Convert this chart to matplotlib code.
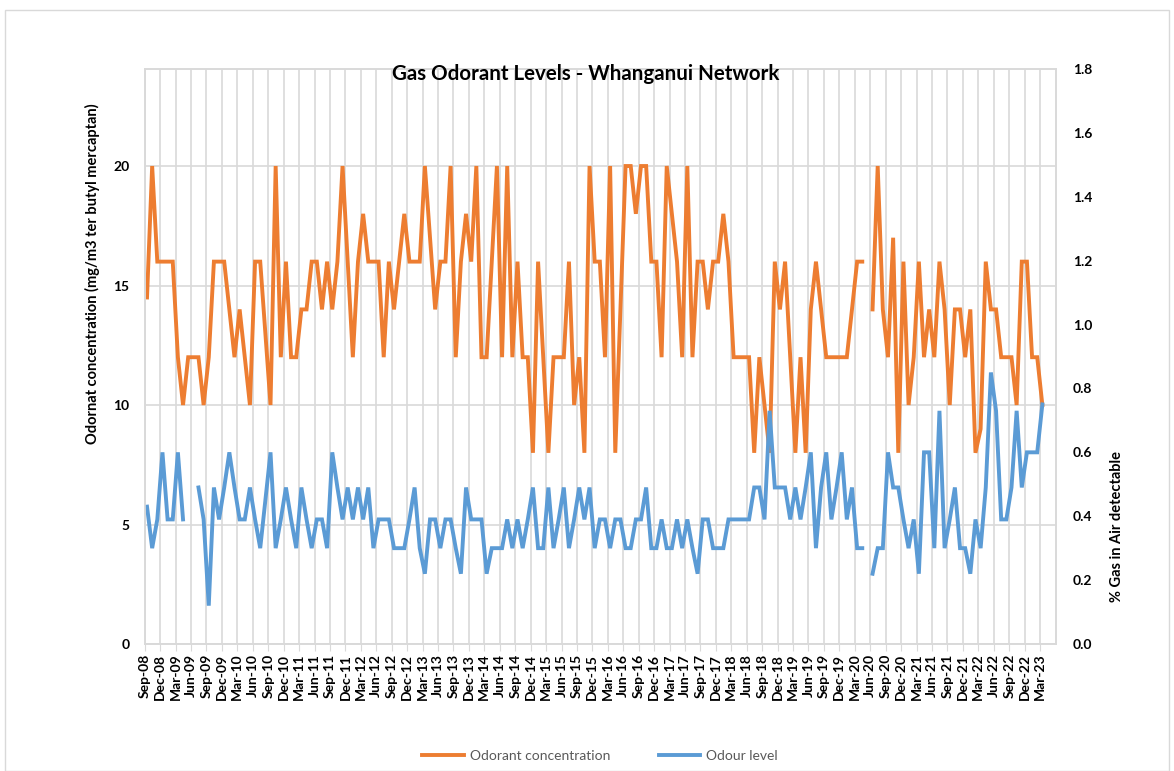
import numpy as np
import matplotlib.pyplot as plt
from matplotlib.patches import Rectangle

# Data (monthly samples, Sep-08 .. Mar-23; None = no sample)
odorant = [14.5, 20, 16, 16, 16, 16, 12, 10, 12, 12, 12, 10, 12, 16, 16, 16, 14, 12, 14, 12,
           10, 16, 16, 13, 10, 20, 12, 16, 12, 12, 14, 14, 16, 16, 14, 16, 14, 16, 20, 16,
           12, 16, 18, 16, 16, 16, 12, 16, 14, 16, 18, 16, 16, 16, 20, 17, 14, 16, 16, 20,
           12, 16, 18, 16, 20, 12, 12, 16, 20, 12, 20, 12, 16, 12, 12, 8, 16, 12, 8, 12,
           12, 12, 16, 10, 12, 8, 20, 16, 16, 12, 20, 8, 14, 20, 20, 18, 20, 20, 16, 16,
           12, 20, 18, 16, 12, 20, 12, 16, 16, 14, 16, 16, 18, 16, 12, 12, 12, 12, 8, 12,
           10, 8, 16, 14, 16, 12, 8, 12, 8, 14, 16, 14, 12, 12, 12, 12, 12, 14, 16, 16,
           None, 14, 20, 14, 12, 17, 8, 16, 10, 12, 16, 12, 14, 12, 16, 14, 10, 14, 14, 12,
           14, 8, 9, 16, 14, 14, 12, 12, 12, 10, 16, 16, 12, 12, 10]

odour = [0.43, 0.3, 0.39, 0.6, 0.39, 0.39, 0.6, 0.39, None, None, 0.49, 0.39, 0.12, 0.49, 0.39, 0.49, 0.6, 0.49, 0.39, 0.39,
         0.49, 0.39, 0.3, 0.45, 0.6, 0.3, 0.39, 0.49, 0.39, 0.3, 0.49, 0.39, 0.3, 0.39, 0.39, 0.3, 0.6, 0.49, 0.39, 0.49,
         0.39, 0.49, 0.39, 0.49, 0.3, 0.39, 0.39, 0.39, 0.3, 0.3, 0.3, 0.39, 0.49, 0.3, 0.22, 0.39, 0.39, 0.3, 0.39, 0.39,
         0.3, 0.22, 0.49, 0.39, 0.39, 0.39, 0.22, 0.3, 0.3, 0.3, 0.39, 0.3, 0.39, 0.3, 0.39, 0.49, 0.3, 0.3, 0.49, 0.3,
         0.39, 0.49, 0.3, 0.39, 0.49, 0.39, 0.49, 0.3, 0.39, 0.39, 0.3, 0.39, 0.39, 0.3, 0.3, 0.39, 0.39, 0.49, 0.3, 0.3,
         0.39, 0.3, 0.3, 0.39, 0.3, 0.39, 0.3, 0.22, 0.39, 0.39, 0.3, 0.3, 0.3, 0.39, 0.39, 0.39, 0.39, 0.39, 0.49, 0.49,
         0.39, 0.73, 0.49, 0.49, 0.49, 0.39, 0.49, 0.39, 0.49, 0.6, 0.3, 0.49, 0.6, 0.39, 0.49, 0.6, 0.39, 0.49, 0.3, 0.3,
         None, 0.22, 0.3, 0.3, 0.6, 0.49, 0.49, 0.39, 0.3, 0.39, 0.22, 0.6, 0.6, 0.3, 0.73, 0.3, 0.39, 0.49, 0.3, 0.3,
         0.22, 0.39, 0.3, 0.49, 0.85, 0.73, 0.39, 0.39, 0.49, 0.73, 0.49, 0.6, 0.6, 0.6, 0.75]

tick_labels = ['Sep-08', 'Dec-08', 'Mar-09', 'Jun-09', 'Sep-09', 'Dec-09', 'Mar-10', 'Jun-10', 'Sep-10', 'Dec-10',
               'Mar-11', 'Jun-11', 'Sep-11', 'Dec-11', 'Mar-12', 'Jun-12', 'Sep-12', 'Dec-12', 'Mar-13', 'Jun-13',
               'Sep-13', 'Dec-13', 'Mar-14', 'Jun-14', 'Sep-14', 'Dec-14', 'Mar-15', 'Jun-15', 'Sep-15', 'Dec-15',
               'Mar-16', 'Jun-16', 'Sep-16', 'Dec-16', 'Mar-17', 'Jun-17', 'Sep-17', 'Dec-17', 'Mar-18', 'Jun-18',
               'Sep-18', 'Dec-18', 'Mar-19', 'Jun-19', 'Sep-19', 'Dec-19', 'Mar-20', 'Jun-20', 'Sep-20', 'Dec-20',
               'Mar-21', 'Jun-21', 'Sep-21', 'Dec-21', 'Mar-22', 'Jun-22', 'Sep-22', 'Dec-22', 'Mar-23']

orange = '#ED7D31'
blue = '#5B9BD5'
grid = '#D9D9D9'

plt.rcParams['font.family'] = ['Lato', 'DejaVu Sans']

# samples taken mid-month -> offset a bit from the month gridline
x = np.arange(len(odorant)) + 0.45
y1 = np.array([np.nan if v is None else v for v in odorant], dtype=float)
y2 = np.array([np.nan if v is None else v for v in odour], dtype=float)

fig = plt.figure(figsize=(11.74, 7.71), dpi=100)
fig.patches.append(Rectangle((5 / 1174, 0), 1164 / 1174, 1 - 10 / 771, transform=fig.transFigure,
                             fill=False, edgecolor=grid, linewidth=1))

ax = fig.add_axes([144.7 / 1174, 1 - 644 / 771, (1056 - 144.7) / 1174, (644 - 69) / 771])
ax2 = ax.twinx()

ax.plot(x, y1, color=orange, linewidth=2.8, label='Odorant concentration', solid_joinstyle='miter')
ax2.plot(x, y2, color=blue, linewidth=2.8, label='Odour level', solid_joinstyle='miter')

ax.set_xlim(0, 177.1)
ax.set_ylim(0, 24.06)
ax2.set_ylim(0, 1.8)

ticks = np.arange(0, 3 * len(tick_labels), 3)
ax.set_xticks(ticks)
ax.set_xticklabels(tick_labels, rotation=90, fontsize=10, fontweight='bold')
ax.set_yticks([0, 5, 10, 15, 20])
ax.set_yticklabels(['0', '5', '10', '15', '20'], fontsize=10, fontweight='bold')
ax2.set_yticks(np.arange(0, 1.81, 0.2))
ax2.set_yticklabels(['%.1f' % v for v in np.arange(0, 1.81, 0.2)], fontsize=10, fontweight='bold')

ax.grid(True, color=grid, linewidth=1.2)
ax.set_axisbelow(True)
ax.tick_params(axis='x', length=5, color=grid, pad=2)
ax.tick_params(axis='y', length=0, pad=11)
ax2.tick_params(axis='y', length=0, pad=12)
for a in (ax, ax2):
    for s in a.spines.values():
        s.set_color(grid)
        s.set_linewidth(1.2)

fig.text(586 / 1174, 1 - 74 / 771, 'Gas Odorant Levels - Whanganui Network', ha='center', va='center',
         fontsize=14.8, fontweight='bold')
fig.text(92 / 1174, 1 - 274 / 771, 'Odornat concentration (mg/m3 ter butyl mercaptan)', rotation=90,
         ha='center', va='center', fontsize=10.5, fontweight='bold')
fig.text(1117 / 1174, 1 - 527 / 771, '% Gas in Air detectable', rotation=90,
         ha='center', va='center', fontsize=10.5, fontweight='bold')

h1, l1 = ax.get_legend_handles_labels()
h2, l2 = ax2.get_legend_handles_labels()
leg = fig.legend(h1 + h2, l1 + l2, loc='center', bbox_to_anchor=(600 / 1174, 1 - 756 / 771), ncol=2,
                 frameon=False, fontsize=10, handlelength=3.0, handletextpad=0.4, columnspacing=3.5)
for t in leg.get_texts():
    t.set_color('#595959')

fig.savefig('out.png', dpi=100)
